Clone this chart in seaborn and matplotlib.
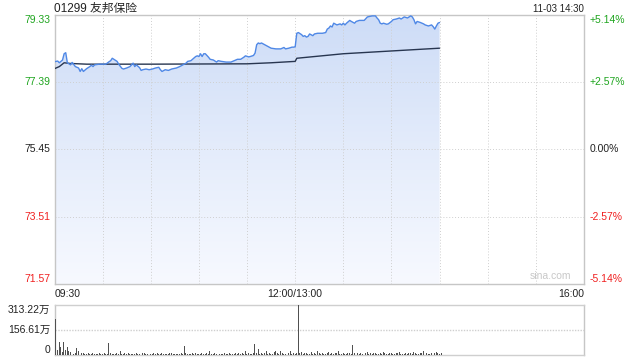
import numpy as np
import pandas as pd
import matplotlib
matplotlib.use("Agg")
import matplotlib.pyplot as plt
import matplotlib.transforms as mtransforms
from matplotlib.colors import LinearSegmentedColormap
import seaborn as sns

# ---------------- data ----------------
title = "01299 友邦保险"
stamp = "11-03 14:30"
price_ticks = [79.33, 77.39, 75.45, 73.51, 71.57]
pct_ticks = ["+5.14%", "+2.57%", "0.00%", "-2.57%", "-5.14%"]
time_labels = ["09:30", "12:00/13:00", "16:00"]
vol_ticks = [0, 156.61, 313.22]
vol_tick_labels = ["0", "156.61万", "313.22万"]

price_times = [
    "09:30", "09:32", "09:33", "09:35", "09:36", "09:37", "09:38", "09:40", "09:41", "09:43",
    "09:45", "09:46", "09:47", "09:48", "09:50", "09:52", "09:53", "09:54", "09:55", "09:58",
    "10:02", "10:04", "10:05", "10:06", "10:07", "10:09", "10:10", "10:12", "10:13", "10:15",
    "10:17", "10:19", "10:20", "10:21", "10:23", "10:24", "10:25", "10:27", "10:29", "10:31",
    "10:33", "10:35", "10:36", "10:37", "10:39", "10:41", "10:43", "10:46", "10:48", "10:50",
    "10:52", "10:53", "10:55", "10:56", "10:58", "10:59", "11:00", "11:01", "11:02", "11:03",
    "11:04", "11:06", "11:07", "11:09", "11:11", "11:12", "11:14", "11:17", "11:20", "11:22",
    "11:24", "11:26", "11:28", "11:29", "11:31", "11:32", "11:34", "11:35", "11:36", "11:37",
    "11:38", "11:39", "11:41", "11:43", "11:45", "11:48", "11:51", "11:53", "11:54", "11:56",
    "11:58", "11:59", "12:00",
    "13:01", "13:02", "13:04", "13:05", "13:06", "13:07", "13:08", "13:09", "13:11", "13:12",
    "13:14", "13:17", "13:19", "13:20", "13:21", "13:22", "13:23", "13:24", "13:26", "13:28",
    "13:29", "13:30", "13:31", "13:32", "13:34", "13:35", "13:37", "13:38", "13:40", "13:43",
    "13:45", "13:48", "13:50", "13:51", "13:52", "13:53", "13:54", "13:55", "13:57", "13:58",
    "14:00", "14:01", "14:03", "14:05", "14:06", "14:08", "14:10", "14:12", "14:13", "14:14",
    "14:15", "14:16", "14:18", "14:20", "14:21", "14:23", "14:25", "14:26", "14:27", "14:28",
    "14:29", "14:30",
]
price_values = [
    77.97, 77.99, 77.94, 78.02, 78.20, 78.23, 77.94, 77.88, 77.95, 77.83,
    77.79, 77.69, 77.77, 77.69, 77.77, 77.83, 77.87, 77.83, 77.88, 77.90,
    77.90, 77.97, 78.00, 78.07, 78.04, 77.98, 77.90, 77.78, 77.76, 77.79,
    77.83, 77.93, 77.83, 77.88, 77.80, 77.72, 77.74, 77.76, 77.74, 77.76,
    77.79, 77.81, 77.74, 77.69, 77.74, 77.72, 77.76, 77.79, 77.83, 77.88,
    77.93, 77.98, 78.00, 78.04, 78.12, 78.14, 78.12, 78.20, 78.12, 78.20,
    78.20, 78.10, 78.04, 78.02, 77.96, 78.00, 77.98, 77.96, 77.96, 78.00,
    78.04, 78.04, 78.10, 78.14, 78.11, 78.12, 78.15, 78.22, 78.46, 78.51,
    78.49, 78.51, 78.46, 78.41, 78.36, 78.34, 78.34, 78.38, 78.34, 78.36,
    78.39, 78.39, 78.40,
    78.79, 78.81, 78.75, 78.70, 78.72, 78.68, 78.70, 78.77, 78.72, 78.77,
    78.79, 78.79, 78.81, 78.91, 78.94, 79.00, 78.97, 79.08, 79.03, 79.06,
    79.03, 79.08, 79.03, 79.08, 79.16, 79.13, 79.08, 79.13, 79.16, 79.16,
    79.26, 79.29, 79.29, 79.23, 79.18, 79.08, 79.06, 79.08, 79.05, 79.06,
    79.13, 79.18, 79.20, 79.23, 79.20, 79.26, 79.23, 79.29, 79.26, 79.18,
    79.06, 79.13, 79.10, 79.06, 79.03, 79.00, 79.03, 78.98, 78.91, 79.00,
    79.08, 79.10,
]

avg_times = ["09:30", "09:33", "09:36", "09:40", "09:50", "10:30", "11:30", "11:45", "12:00",
             "13:01", "13:30", "14:30"]
avg_values = [77.77, 77.83, 77.94, 77.92, 77.90, 77.90, 77.91, 77.94, 77.98,
              78.07, 78.20, 78.36]

# volume per minute (万), 09:30 .. 12:00 then 13:01 .. 14:30
volume_am = [
    225, 30, 83, 52, 20, 83, 30, 52, 27, 20, 10, 8, 12, 42, 27, 52, 10, 15, 8, 6,
    12, 5, 8, 10, 6, 9, 5, 12, 7, 5, 10, 6, 8, 77, 12, 6, 9, 5, 10, 7,
    27, 8, 5, 10, 6, 12, 7, 5, 9, 6, 15, 5, 8, 6, 10, 12, 5, 7, 9, 6,
    8, 10, 5, 12, 7, 6, 15, 9, 5, 8, 6, 10, 12, 5, 9, 7, 6, 8, 10, 5,
    58, 12, 6, 9, 5, 10, 7, 15, 6, 8, 5, 12, 9, 6, 10, 5, 27, 8, 6, 10,
    7, 18, 5, 9, 6, 12, 8, 5, 10, 6, 9, 5, 12, 7, 15, 6, 10, 8, 27, 5,
    12, 9, 6, 10, 69, 15, 38, 8, 10, 6, 12, 27, 8, 15, 9, 6, 18, 27, 10, 8,
    27, 12, 9, 6, 15, 10, 22, 8, 12, 6, 10,
]
volume_pm = [
    313.22, 15, 20, 8, 12, 10, 6, 9, 18, 5,
    12, 8, 22, 10, 6, 15, 9, 5, 12, 20,
    8, 10, 6, 15, 12, 25, 9, 5, 10, 8,
    6, 12, 15, 9, 63, 10, 8, 12, 6, 15,
    9, 5, 10, 18, 8, 12, 6, 10, 15, 9,
    5, 12, 8, 20, 10, 6, 9, 15, 12, 8,
    5, 10, 12, 18, 6, 9, 8, 12, 5, 15,
    10, 8, 20, 12, 6, 9, 15, 10, 22, 8,
    12, 5, 9, 15, 31, 10, 20, 12, 8, 15,
]


def trade_index(t):
    """Trading-minute index: 09:30 -> 0, 12:00 -> 150, 13:00 -> 150, 16:00 -> 330."""
    h, m = map(int, t.split(":"))
    mins = h * 60 + m
    if mins <= 12 * 60:
        return mins - (9 * 60 + 30)
    return 150 + mins - 13 * 60


vol_times = ([f"{(570 + i) // 60:02d}:{(570 + i) % 60:02d}" for i in range(len(volume_am))] +
             [f"{(781 + i) // 60:02d}:{(781 + i) % 60:02d}" for i in range(len(volume_pm))])
vol_values = volume_am + volume_pm

df_price = pd.DataFrame({"t": [trade_index(t) for t in price_times], "price": price_values})
df_avg = pd.DataFrame({"t": [trade_index(t) for t in avg_times], "avg": avg_values})
df_vol = pd.DataFrame({"t": [trade_index(t) for t in vol_times], "vol": vol_values})

# ---------------- style ----------------
sns.set_theme(style="white")
plt.rcParams["font.family"] = ["Liberation Sans", "Noto Sans CJK SC", "DejaVu Sans"]

GREEN = "#1fa51f"
RED = "#f02020"
DARK = "#222222"
GRID = "#cfcfcf"
SPINE = "#c6c6c6"
LINE = "#4f88e6"
AVG = "#283650"
DOT = (0, (1, 2))

fig = plt.figure(figsize=(6.4, 3.6), dpi=100)
ax = fig.add_axes([54.5 / 640, 1 - 284 / 360, (584 - 54.5) / 640, (284 - 14.5) / 360])
axv = fig.add_axes([54.5 / 640, 1 - 355 / 360, (584 - 54.5) / 640, (355 - 305) / 360])

ymin, ymax = price_ticks[-1], price_ticks[0]
ax.set_xlim(0, 330)
ax.set_ylim(ymin, ymax)

# gradient fill under the price line
poly = ax.fill_between(df_price["t"], df_price["price"], ymin, color="none", lw=0)
grad = np.linspace(0, 1, 256).reshape(-1, 1)
cmap = LinearSegmentedColormap.from_list("g", ["#f7f9ff", "#e4ecfb", "#cddcf7"])
im = ax.imshow(grad, extent=[0, df_price["t"].max(), ymin, ymax], origin="lower",
               aspect="auto", cmap=cmap, zorder=1)
im.set_clip_path(poly.get_paths()[0], transform=ax.transData)

# grid
for k in range(1, 11):
    ax.axvline(k * 30, color=GRID, lw=0.7, ls=DOT, zorder=2)
for p in price_ticks[1:-1]:
    ax.axhline(p, color=GRID, lw=0.7, ls=DOT, zorder=2)

sns.lineplot(data=df_price, x="t", y="price", ax=ax, color=LINE, lw=1.0, zorder=4)
sns.lineplot(data=df_avg, x="t", y="avg", ax=ax, color=AVG, lw=1.0, zorder=3)

ax.set_xticks([])
ax.set_yticks([])
ax.set_xlabel("")
ax.set_ylabel("")
for s in ax.spines.values():
    s.set_color(SPINE)
    s.set_linewidth(1.0)

trans_l = mtransforms.blended_transform_factory(ax.transAxes, ax.transData)
vas = ["top", "center", "center", "center", "bottom"]
cols = [GREEN, GREEN, DARK, RED, RED]
for p, pct, va, c in zip(price_ticks, pct_ticks, vas, cols):
    ax.text(-0.007, p, f"{p:.2f}", transform=trans_l, ha="right", va=va, color=c, fontsize=7.5)
    ax.text(1.010, p, pct, transform=trans_l, ha="left", va=va, color=c, fontsize=7.5)

trans_x = mtransforms.blended_transform_factory(ax.transData, ax.transAxes)
ax.text(0, -0.018, time_labels[0], transform=trans_x, ha="left", va="top", color=DARK, fontsize=7.5)
ax.text(150, -0.018, time_labels[1], transform=trans_x, ha="center", va="top", color=DARK, fontsize=7.5)
ax.text(330, -0.018, time_labels[2], transform=trans_x, ha="right", va="top", color=DARK, fontsize=7.5)

ax.text(0.0, 1.011, title, transform=ax.transAxes, ha="left", va="baseline", color=DARK, fontsize=8.5)
ax.text(1.0, 1.011, stamp, transform=ax.transAxes, ha="right", va="baseline", color=DARK, fontsize=7)
ax.text(0.975, 0.01, "sina.com", transform=ax.transAxes, ha="right", va="bottom",
        color="#c8c8c8", fontsize=7.5)

# ---------------- volume ----------------
axv.set_xlim(0, 330)
axv.set_ylim(0, vol_ticks[-1])
bar_offset = 0.6  # keep the first bar clear of the left frame line
axv.bar(df_vol["t"] + bar_offset, df_vol["vol"], width=0.6, align="edge",
        color="#505050", lw=0, zorder=3)
axv.axhline(vol_ticks[1], color=GRID, lw=1.0, ls=(0, (1, 1)), zorder=1)
axv.set_xticks([])
axv.set_yticks(vol_ticks)
axv.set_yticklabels(vol_tick_labels, fontsize=7.5, color=DARK)
axv.tick_params(axis="y", length=0, pad=3)
for side in ["left", "right"]:
    axv.spines[side].set_color(SPINE)
    axv.spines[side].set_linewidth(1.0)
for side in ["top", "bottom"]:
    axv.spines[side].set_color(GRID)
    axv.spines[side].set_linewidth(1.0)
    axv.spines[side].set_linestyle((0, (1, 1)))
for lbl, va in zip(axv.get_yticklabels(), ["bottom", "center", "top"]):
    lbl.set_verticalalignment(va)
axv.set_xlabel("")
axv.set_ylabel("")

fig.savefig("out.png", dpi=100)
